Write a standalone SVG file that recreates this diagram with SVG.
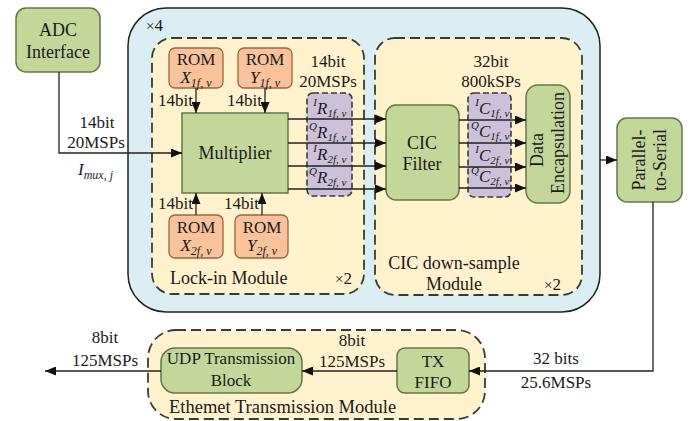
<svg xmlns="http://www.w3.org/2000/svg" width="697" height="421" viewBox="0 0 697 421" font-family="'Liberation Serif', 'Times New Roman', 'DejaVu Serif', serif">
<style>
.t{font-family:'Liberation Serif','Times New Roman','DejaVu Serif',serif;font-size:17px;fill:#1a1a1a}
.b{font-size:18px}
.b2{font-size:18.5px}
.m{text-anchor:middle}
.e{text-anchor:end}
.it{font-style:italic}
.sm{font-size:12px;font-style:italic}
.ss{font-size:11px;font-style:italic}
.grn{fill:#C4D79B;stroke:#65754A;stroke-width:1.5}
.rom{fill:#F8C29A;stroke:#9A6640;stroke-width:1.3}
.dash{fill:#FFF2CC;stroke:#3a3a3a;stroke-width:1.8;stroke-dasharray:10 5}
.pur{fill:#CCC0DA;stroke:#3a3a3a;stroke-width:1.6;stroke-dasharray:6 3}
.ln{fill:none;stroke:#222;stroke-width:1.3;marker-end:url(#ah)}
</style>
<defs>
<marker id="ah" markerWidth="11" markerHeight="9" refX="11" refY="4.5" orient="auto" markerUnits="userSpaceOnUse">
<path d="M0,0 L11,4.5 L0,9 z" fill="#111"/>
</marker>
</defs>
<rect width="697" height="421" fill="#fff"/>

<g id="outer-x4">
<rect x="128" y="8" width="472" height="304" rx="38" fill="#DAEEF3" stroke="#222" stroke-width="1.5"/>
<text class="t" x="146" y="31"><tspan font-size="15">×</tspan>4</text>
</g>

<g id="lockin-module">
<rect class="dash" x="152" y="38" width="212" height="256" rx="20"/>
<text class="t b" x="170" y="284">Lock-in Module</text>
<text class="t" x="335" y="284"><tspan font-size="15">×</tspan>2</text>
</g>

<g id="cic-module">
<rect class="dash" x="375" y="38" width="207" height="257" rx="20"/>
<text class="t b m" x="454" y="269">CIC down-sample</text>
<text class="t b m" x="454" y="290">Module</text>
<text class="t" x="544" y="290"><tspan font-size="15">×</tspan>2</text>
</g>

<g id="ethernet-module">
<rect class="dash" x="148" y="330" width="337" height="89" rx="28"/>
<text class="t b2" x="169" y="413">Ethemet Transmission Module</text>
</g>

<g id="adc">
<rect class="grn" x="16" y="8" width="84" height="64" rx="10"/>
<text class="t b m" x="58" y="36">ADC</text>
<text class="t b m" x="58" y="58">Interface</text>
</g>

<g id="rom-x1">
<rect class="rom" x="169" y="48" width="54" height="40" rx="6"/>
<text class="t m" x="196" y="65">ROM</text>
<text class="t m" x="196" y="83"><tspan class="it">X</tspan><tspan class="sm" dy="4">1f, v</tspan></text>
</g>
<g id="rom-y1">
<rect class="rom" x="238" y="48" width="54" height="40" rx="6"/>
<text class="t m" x="265" y="65">ROM</text>
<text class="t m" x="265" y="83"><tspan class="it">Y</tspan><tspan class="sm" dy="4">1f, v</tspan></text>
</g>
<g id="rom-x2">
<rect class="rom" x="169" y="215" width="54" height="43" rx="6"/>
<text class="t m" x="196" y="233">ROM</text>
<text class="t m" x="196" y="251"><tspan class="it">X</tspan><tspan class="sm" dy="4">2f, v</tspan></text>
</g>
<g id="rom-y2">
<rect class="rom" x="235" y="215" width="53" height="43" rx="6"/>
<text class="t m" x="262" y="233">ROM</text>
<text class="t m" x="262" y="251"><tspan class="it">Y</tspan><tspan class="sm" dy="4">2f, v</tspan></text>
</g>

<g id="multiplier">
<rect class="grn" x="182" y="113" width="106" height="80"/>
<text class="t b m" x="235" y="159">Multiplier</text>
</g>

<g id="reg-r">
<rect class="pur" x="307" y="93" width="45" height="103" rx="6"/>
<text class="t e ss" x="317" y="106">I</text>
<text class="t" x="317" y="114"><tspan class="it">R</tspan><tspan class="ss" dy="3">1f, v</tspan></text>
<text class="t e ss" x="317" y="130">Q</text>
<text class="t" x="317" y="138"><tspan class="it">R</tspan><tspan class="ss" dy="3">1f, v</tspan></text>
<text class="t e ss" x="317" y="152">I</text>
<text class="t" x="317" y="160"><tspan class="it">R</tspan><tspan class="ss" dy="3">2f, v</tspan></text>
<text class="t e ss" x="317" y="175">Q</text>
<text class="t" x="317" y="183"><tspan class="it">R</tspan><tspan class="ss" dy="3">2f, v</tspan></text>
</g>

<g id="cic-filter">
<rect class="grn" x="386" y="105" width="73" height="95" rx="10"/>
<text class="t b m" x="422" y="149">CIC</text>
<text class="t b m" x="422" y="170">Filter</text>
</g>

<g id="reg-c">
<rect class="pur" x="468" y="93" width="43" height="104" rx="6"/>
<text class="t e ss" x="479" y="106">I</text>
<text class="t" x="479" y="114"><tspan class="it">C</tspan><tspan class="ss" dy="3">1f, v</tspan></text>
<text class="t e ss" x="479" y="129">Q</text>
<text class="t" x="479" y="137"><tspan class="it">C</tspan><tspan class="ss" dy="3">1f, v</tspan></text>
<text class="t e ss" x="479" y="153">I</text>
<text class="t" x="479" y="161"><tspan class="it">C</tspan><tspan class="ss" dy="3">2f, v</tspan></text>
<text class="t e ss" x="479" y="174">Q</text>
<text class="t" x="479" y="182"><tspan class="it">C</tspan><tspan class="ss" dy="3">2f, v</tspan></text>
</g>

<g id="data-encap">
<rect class="grn" x="526" y="85" width="44" height="118" rx="12"/>
<text class="t b m" transform="translate(548,150) rotate(-90)" x="0" y="-5">Data</text>
<text class="t b m" transform="translate(548,143) rotate(-90)" x="0" y="16">Encapsulation</text>
</g>

<g id="p2s">
<rect class="grn" x="617" y="118" width="65" height="84" rx="10"/>
<text class="t b m" transform="translate(650,160) rotate(-90)"><tspan x="0" y="-5">Parallel-</tspan><tspan x="0" y="16">to-Serial</tspan></text>
</g>

<g id="tx-fifo">
<rect class="grn" x="397" y="348" width="72" height="45" rx="8"/>
<text class="t m" x="433" y="367">TX</text>
<text class="t m" x="433" y="388">FIFO</text>
</g>

<g id="udp">
<rect class="grn" x="161" y="348" width="141" height="45" rx="14"/>
<text class="t m" x="231" y="364">UDP Transmission</text>
<text class="t m" x="231" y="386">Block</text>
</g>

<g id="connectors">
<path class="ln" d="M59,72 V153 H182"/>
<path class="ln" d="M196,88 V113"/>
<path class="ln" d="M265,88 V113"/>
<path class="ln" d="M196,215 V193"/>
<path class="ln" d="M262,215 V193"/>
<path class="ln" d="M288,119 H386"/>
<path class="ln" d="M288,143 H386"/>
<path class="ln" d="M288,166 H386"/>
<path class="ln" d="M288,189 H386"/>
<path class="ln" d="M459,120 H526"/>
<path class="ln" d="M459,143 H526"/>
<path class="ln" d="M459,167 H526"/>
<path class="ln" d="M459,188 H526"/>
<path class="ln" d="M600,160 H617"/>
<path class="ln" d="M653,202 V371 H469"/>
<path class="ln" d="M397,371 H302"/>
<path class="ln" d="M161,371 H45"/>
</g>

<g id="labels">
<text class="t m" x="97" y="128">14bit</text>
<text class="t m" x="96" y="148">20MSPs</text>
<text class="t" x="78" y="175"><tspan class="it">I</tspan><tspan class="sm" dy="4">mux, j</tspan></text>
<text class="t e" x="193" y="106">14bit</text>
<text class="t e" x="262" y="106">14bit</text>
<text class="t e" x="193" y="209">14bit</text>
<text class="t e" x="259" y="209">14bit</text>
<text class="t m" x="328" y="67">14bit</text>
<text class="t m" x="328" y="87">20MSPs</text>
<text class="t m" x="491" y="67">32bit</text>
<text class="t m" x="491" y="87">800kSPs</text>
<text class="t m" x="556" y="364">32 bits</text>
<text class="t m" x="556" y="388">25.6MSPs</text>
<text class="t m" x="352" y="346">8bit</text>
<text class="t m" x="352" y="367">125MSPs</text>
<text class="t m" x="105" y="343">8bit</text>
<text class="t m" x="105" y="366">125MSPs</text>
</g>
</svg>
